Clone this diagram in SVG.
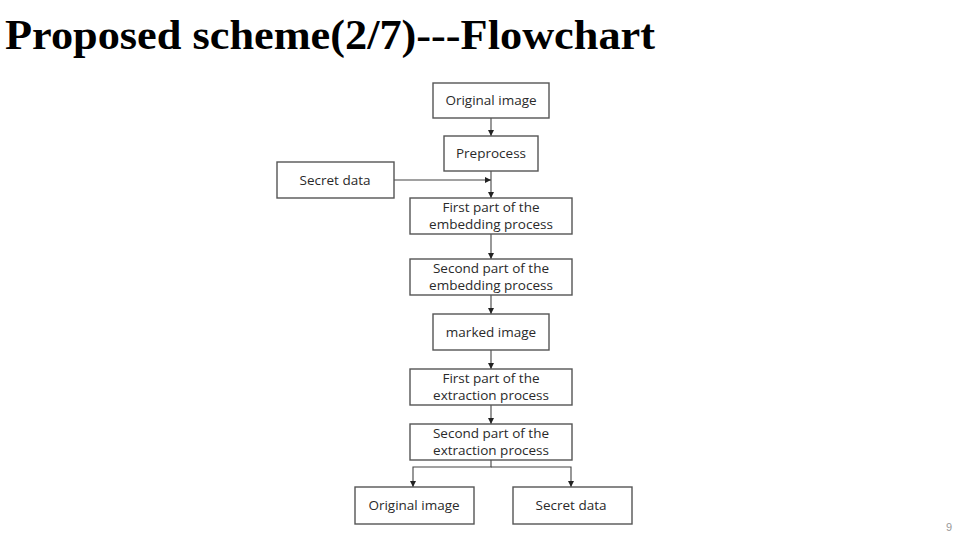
<svg xmlns="http://www.w3.org/2000/svg" width="960" height="540" viewBox="0 0 960 540">
<style>
.box{fill:#fff;stroke:#555;stroke-width:1.4}
.t{font-family:"Open Sans","Liberation Sans",sans-serif;font-size:13.5px;fill:#2a2a2a;text-anchor:middle}
.c{stroke:#444;stroke-width:1.1;fill:none}
.title{font-family:"Liberation Serif","Times New Roman",serif;font-weight:bold;font-size:42px;fill:#000}
</style>
<defs>
<marker id="ah" markerWidth="8" markerHeight="8" refX="6" refY="3" orient="auto" markerUnits="userSpaceOnUse">
<path d="M0,0 L6,3 L0,6 Z" fill="#222"/>
</marker>
</defs>
<rect width="960" height="540" fill="#fff"/>
<text class="title" x="5" y="49" textLength="650" lengthAdjust="spacingAndGlyphs">Proposed scheme(2/7)---Flowchart</text>
<g id="connectors">
<line class="c" x1="491" y1="118" x2="491" y2="136" marker-end="url(#ah)"/>
<line class="c" x1="491" y1="171" x2="491" y2="198" marker-end="url(#ah)"/>
<line class="c" x1="394" y1="180" x2="491" y2="180" marker-end="url(#ah)"/>
<line class="c" x1="491" y1="234" x2="491" y2="259" marker-end="url(#ah)"/>
<line class="c" x1="491" y1="295" x2="491" y2="314" marker-end="url(#ah)"/>
<line class="c" x1="491" y1="350" x2="491" y2="369" marker-end="url(#ah)"/>
<line class="c" x1="491" y1="405" x2="491" y2="424" marker-end="url(#ah)"/>
<polyline class="c" points="491,460 491,467 413,467 413,487" marker-end="url(#ah)"/>
<polyline class="c" points="491,467 571,467 571,487" marker-end="url(#ah)"/>
</g>
<g id="original">
<rect class="box" x="433" y="83" width="116" height="35"/>
<text class="t" x="491" y="105">Original image</text>
</g>
<g id="preprocess">
<rect class="box" x="444" y="136" width="94" height="35"/>
<text class="t" x="491" y="158">Preprocess</text>
</g>
<g id="secret-in">
<rect class="box" x="277" y="162" width="117" height="36"/>
<text class="t" x="335" y="185">Secret data</text>
</g>
<g id="embed1">
<rect class="box" x="410" y="198" width="162" height="36"/>
<text class="t" x="491" y="212">First part of the</text>
<text class="t" x="491" y="229">embedding process</text>
</g>
<g id="embed2">
<rect class="box" x="410" y="259" width="162" height="36"/>
<text class="t" x="491" y="273">Second part of the</text>
<text class="t" x="491" y="290">embedding process</text>
</g>
<g id="marked">
<rect class="box" x="433" y="314" width="116" height="36"/>
<text class="t" x="491" y="337">marked image</text>
</g>
<g id="extract1">
<rect class="box" x="410" y="369" width="162" height="36"/>
<text class="t" x="491" y="383">First part of the</text>
<text class="t" x="491" y="400">extraction process</text>
</g>
<g id="extract2">
<rect class="box" x="410" y="424" width="162" height="36"/>
<text class="t" x="491" y="438">Second part of the</text>
<text class="t" x="491" y="455">extraction process</text>
</g>
<g id="original-out">
<rect class="box" x="355" y="487" width="119" height="37"/>
<text class="t" x="414" y="510">Original image</text>
</g>
<g id="secret-out">
<rect class="box" x="513" y="487" width="119" height="37"/>
<text class="t" x="571" y="510">Secret data</text>
</g>
<text x="949" y="531" font-family="Liberation Sans,sans-serif" font-size="11" fill="#999" text-anchor="middle">9</text>
</svg>
